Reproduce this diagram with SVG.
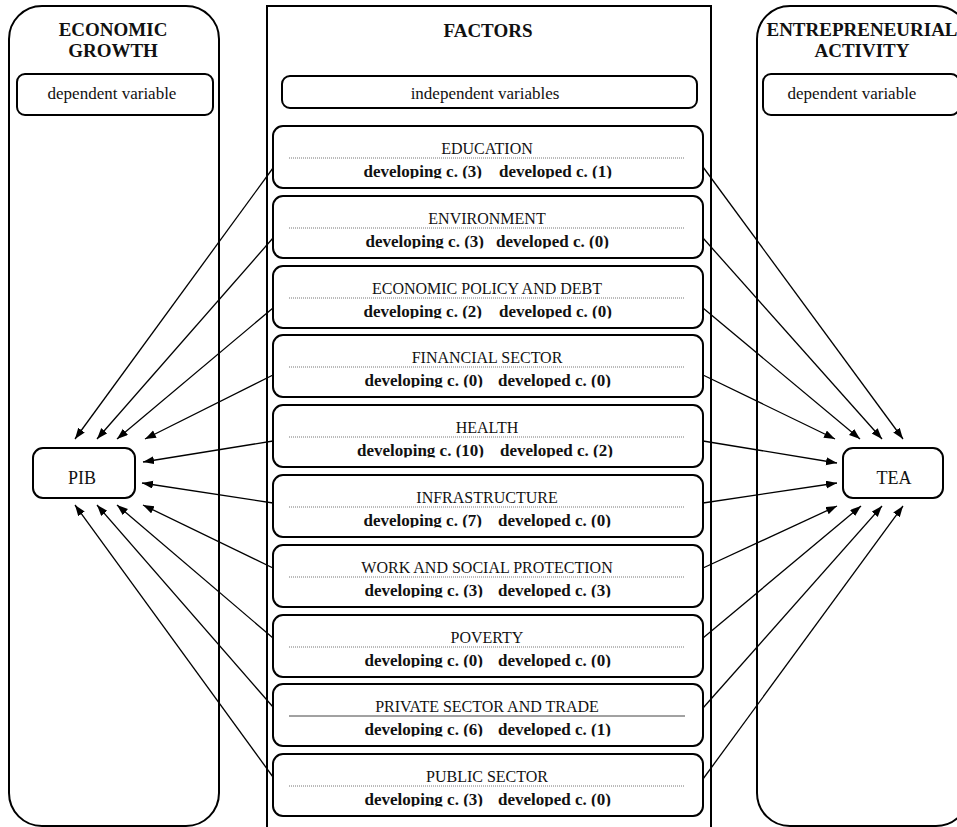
<svg xmlns="http://www.w3.org/2000/svg" width="957" height="827" viewBox="0 0 957 827">
<defs>
<style>
.panel{fill:none;stroke:#000;stroke-width:2}
.box{fill:#fff;stroke:#000;stroke-width:2}
.hd{font-family:"Liberation Serif","Times New Roman",serif;font-weight:bold;font-size:19px;text-anchor:middle;fill:#111}
.lbl{font-family:"Liberation Serif","Times New Roman",serif;font-size:17px;text-anchor:middle;fill:#111}
.ttl{font-family:"Liberation Serif","Times New Roman",serif;font-size:16px;text-anchor:middle;fill:#111}
.cnt{font-family:"Liberation Serif","Times New Roman",serif;font-size:17px;font-weight:bold;fill:#111}
.dot{stroke:#777;stroke-width:1;stroke-dasharray:1 1}
.sol{stroke:#444;stroke-width:1}
.con line{stroke:#000;stroke-width:1.3;marker-end:url(#ah)}
</style>
<marker id="ah" markerUnits="userSpaceOnUse" markerWidth="12" markerHeight="9" refX="11" refY="4" orient="auto">
<path d="M0,0 L11,4 L0,8 z" fill="#000"/>
</marker>
<clipPath id="clipCnt" clipPathUnits="userSpaceOnUse"><rect x="273" y="34" width="430" height="18.5"/></clipPath>
</defs>
<rect width="957" height="827" fill="#fff"/>

<g id="panel-growth">
<rect class="panel" x="9" y="6" width="210" height="820" rx="33"/>
<text class="hd" x="113" y="36">ECONOMIC</text>
<text class="hd" x="113" y="57">GROWTH</text>
<rect class="box" x="17" y="74" width="196" height="41" rx="8"/>
<text class="lbl" x="112" y="99">dependent variable</text>
</g>

<g id="panel-factors">
<rect class="panel" x="267" y="6" width="444" height="830"/>
<text class="hd" x="488" y="37">FACTORS</text>
<rect class="box" x="282" y="76" width="415" height="32" rx="8"/>
<text class="lbl" x="485" y="99">independent variables</text>
</g>

<g id="panel-activity">
<rect class="panel" x="757" y="6" width="212" height="820" rx="33"/>
<text class="hd" x="862" y="36">ENTREPRENEURIAL</text>
<text class="hd" x="862" y="57">ACTIVITY</text>
<rect class="box" x="763" y="74" width="196" height="41" rx="8"/>
<text class="lbl" x="852" y="99">dependent variable</text>
</g>

<g id="pib">
<rect class="box" x="33" y="448" width="102" height="50" rx="10"/>
<text class="lbl" x="82" y="484" style="font-size:18px">PIB</text>
</g>

<g id="tea">
<rect class="box" x="843" y="448" width="100" height="50" rx="10"/>
<text class="lbl" x="894" y="484" style="font-size:18px">TEA</text>
</g>

<g id="f-education" transform="translate(0,126)">
<rect class="box" x="273" y="0" width="430" height="62" rx="10"/>
<text class="ttl" x="487" y="27.5">EDUCATION</text>
<line class="dot" x1="289" y1="32" x2="685" y2="32"/>
<g clip-path="url(#clipCnt)"><text class="cnt" x="482" y="50.5" text-anchor="end">developing c. (3)</text><text class="cnt" x="499" y="50.5">developed c. (1)</text></g>
</g>

<g id="f-environment" transform="translate(0,196)">
<rect class="box" x="273" y="0" width="430" height="62" rx="10"/>
<text class="ttl" x="487" y="27.5">ENVIRONMENT</text>
<line class="dot" x1="289" y1="32" x2="685" y2="32"/>
<g clip-path="url(#clipCnt)"><text class="cnt" x="484" y="50.5" text-anchor="end">developing c. (3)</text><text class="cnt" x="496" y="50.5">developed c. (0)</text></g>
</g>

<g id="f-economic-policy" transform="translate(0,266)">
<rect class="box" x="273" y="0" width="430" height="62" rx="10"/>
<text class="ttl" x="487" y="27.5">ECONOMIC  POLICY AND DEBT</text>
<line class="dot" x1="289" y1="32" x2="685" y2="32"/>
<g clip-path="url(#clipCnt)"><text class="cnt" x="482" y="50.5" text-anchor="end">developing c. (2)</text><text class="cnt" x="499" y="50.5">developed c. (0)</text></g>
</g>

<g id="f-financial" transform="translate(0,335)">
<rect class="box" x="273" y="0" width="430" height="62" rx="10"/>
<text class="ttl" x="487" y="27.5">FINANCIAL  SECTOR</text>
<line class="dot" x1="289" y1="32" x2="685" y2="32"/>
<g clip-path="url(#clipCnt)"><text class="cnt" x="483" y="50.5" text-anchor="end">developing c. (0)</text><text class="cnt" x="498" y="50.5">developed c. (0)</text></g>
</g>

<g id="f-health" transform="translate(0,405)">
<rect class="box" x="273" y="0" width="430" height="62" rx="10"/>
<text class="ttl" x="487" y="27.5">HEALTH</text>
<line class="dot" x1="289" y1="32" x2="685" y2="32"/>
<g clip-path="url(#clipCnt)"><text class="cnt" x="484" y="50.5" text-anchor="end">developing c. (10)</text><text class="cnt" x="500" y="50.5">developed c.  (2)</text></g>
</g>

<g id="f-infrastructure" transform="translate(0,475)">
<rect class="box" x="273" y="0" width="430" height="62" rx="10"/>
<text class="ttl" x="487" y="27.5">INFRASTRUCTURE</text>
<line class="dot" x1="289" y1="32" x2="685" y2="32"/>
<g clip-path="url(#clipCnt)"><text class="cnt" x="482" y="50.5" text-anchor="end">developing c. (7)</text><text class="cnt" x="498" y="50.5">developed c. (0)</text></g>
</g>

<g id="f-work" transform="translate(0,545)">
<rect class="box" x="273" y="0" width="430" height="62" rx="10"/>
<text class="ttl" x="487" y="27.5">WORK AND SOCIAL PROTECTION</text>
<line class="dot" x1="289" y1="32" x2="685" y2="32"/>
<g clip-path="url(#clipCnt)"><text class="cnt" x="483" y="50.5" text-anchor="end">developing c. (3)</text><text class="cnt" x="498" y="50.5">developed c. (3)</text></g>
</g>

<g id="f-poverty" transform="translate(0,615)">
<rect class="box" x="273" y="0" width="430" height="62" rx="10"/>
<text class="ttl" x="487" y="27.5">POVERTY</text>
<line class="dot" x1="289" y1="32" x2="685" y2="32"/>
<g clip-path="url(#clipCnt)"><text class="cnt" x="483" y="50.5" text-anchor="end">developing c. (0)</text><text class="cnt" x="498" y="50.5">developed c. (0)</text></g>
</g>

<g id="f-private" transform="translate(0,684)">
<rect class="box" x="273" y="0" width="430" height="62" rx="10"/>
<text class="ttl" x="487" y="27.5">PRIVATE  SECTOR AND TRADE</text>
<line class="sol" x1="289" y1="32" x2="685" y2="32"/>
<g clip-path="url(#clipCnt)"><text class="cnt" x="483" y="50.5" text-anchor="end">developing c. (6)</text><text class="cnt" x="498" y="50.5">developed c. (1)</text></g>
</g>

<g id="f-public" transform="translate(0,754)">
<rect class="box" x="273" y="0" width="430" height="62" rx="10"/>
<text class="ttl" x="487" y="27.5">PUBLIC  SECTOR</text>
<line class="dot" x1="289" y1="32" x2="685" y2="32"/>
<g clip-path="url(#clipCnt)"><text class="cnt" x="483" y="50.5" text-anchor="end">developing c. (3)</text><text class="cnt" x="498" y="50.5">developed c. (0)</text></g>
</g>

<g id="connectors" class="con">
<line x1="273" y1="168" x2="75" y2="439"/>
<line x1="273" y1="238" x2="97" y2="439"/>
<line x1="273" y1="308" x2="117" y2="439"/>
<line x1="273" y1="375" x2="145" y2="439"/>
<line x1="273" y1="441" x2="143" y2="462"/>
<line x1="273" y1="503" x2="142" y2="483"/>
<line x1="273" y1="568" x2="143" y2="505"/>
<line x1="273" y1="638" x2="117" y2="505"/>
<line x1="273" y1="707" x2="97" y2="505"/>
<line x1="273" y1="777" x2="75" y2="505"/>
<line x1="703" y1="167" x2="903" y2="439"/>
<line x1="703" y1="238" x2="882" y2="439"/>
<line x1="703" y1="308" x2="860" y2="439"/>
<line x1="703" y1="375" x2="835" y2="439"/>
<line x1="703" y1="441" x2="837" y2="463"/>
<line x1="703" y1="503" x2="837" y2="483"/>
<line x1="703" y1="568" x2="837" y2="506"/>
<line x1="703" y1="638" x2="861" y2="506"/>
<line x1="703" y1="708" x2="882" y2="506"/>
<line x1="703" y1="779" x2="903" y2="506"/>
</g>
</svg>
